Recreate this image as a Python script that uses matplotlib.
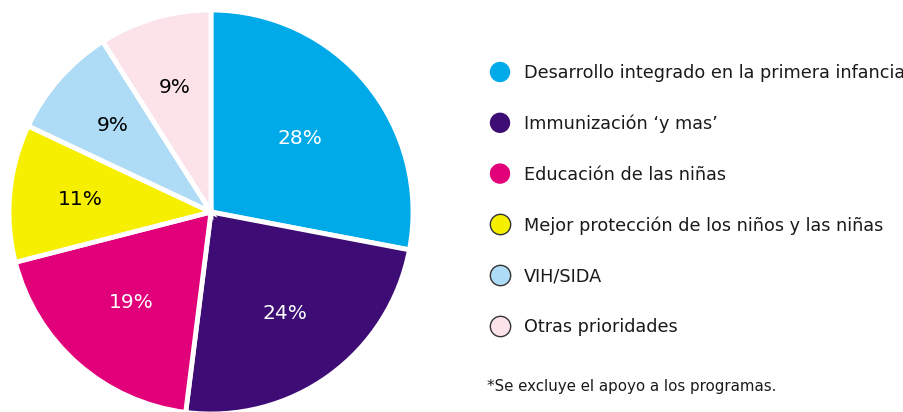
import matplotlib
matplotlib.use("Agg")
import matplotlib.pyplot as plt

plt.rcParams['font.family'] = ['DejaVu Sans']

categories = ["Desarrollo integrado en la primera infancia",
              "Immunización ‘y mas’",
              "Educación de las niñas",
              "Mejor protección de los niños y las niñas",
              "VIH/SIDA",
              "Otras prioridades"]
values = [28, 24, 19, 11, 9, 9]
colors = ["#00AAE9", "#3D0C74", "#E2007A", "#F6F000", "#AEDBF5", "#FCE3EA"]
pct_colors = ["white", "white", "white", "black", "black", "black"]
pct_dist = [0.57, 0.62, 0.60, 0.65, 0.65, 0.64]
legend_edges = ["none", "none", "none", "#333333", "#333333", "#333333"]
footnote = "*Se excluye el apoyo a los programas."

W, H = 904, 412
fig = plt.figure(figsize=(W / 100, H / 100), dpi=100)

# pie axes
cx, cy, R = 211, 212, 202
ax = fig.add_axes([(cx - R) / W, (H - cy - R) / H, 2 * R / W, 2 * R / H])
base = 0.62
wedges, texts, autotexts = ax.pie(
    values, colors=colors, startangle=90, counterclock=False,
    autopct=lambda p: f"{p:.0f}%", pctdistance=base,
    wedgeprops=dict(edgecolor="white", linewidth=3.5),
    textprops=dict(fontsize=14.5))
for t, c, d in zip(autotexts, pct_colors, pct_dist):
    t.set_color(c)
    x, y = t.get_position()
    t.set_position((x * d / base, y * d / base))
ax.set_xlim(-1, 1)
ax.set_ylim(-1, 1)
ax.set_aspect("equal")
ax.axis("off")

# legend
lax = fig.add_axes([0, 0, 1, 1])
lax.set_xlim(0, W)
lax.set_ylim(H, 0)
lax.axis("off")
y0, dy = 72, 50.8
for i, (lab, col, ec) in enumerate(zip(categories, colors, legend_edges)):
    y = y0 + dy * i
    lax.scatter([500], [y], s=215, color=col, edgecolors=ec, linewidths=1.0, zorder=3)
    lax.text(524, y + 1, lab, fontsize=12.7, va="center", ha="left", color="#1a1a1a")
lax.text(487, 386, footnote, fontsize=10.8, va="center", ha="left", color="#1a1a1a")

fig.savefig("out.png", dpi=100)
